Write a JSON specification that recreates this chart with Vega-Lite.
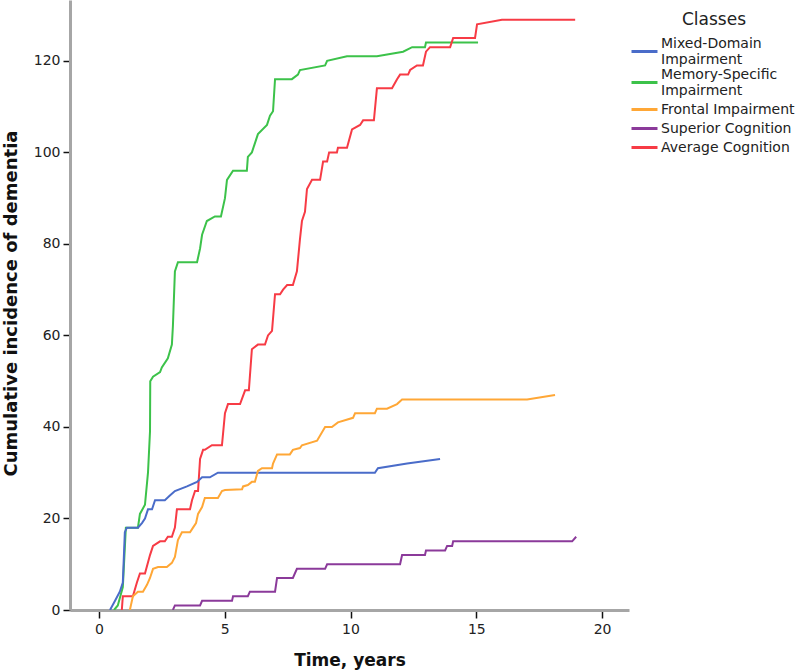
{
  "$schema": "https://vega.github.io/schema/vega-lite/v6.json",
  "width": 559,
  "height": 610,
  "autosize": {"type": "none"},
  "padding": {"left": 70, "top": 0, "right": 171, "bottom": 62},
  "background": "white",
  "config": {
    "view": {"stroke": null},
    "font": "DejaVu Sans"
  },
  "data": {"values": [
    {"cls": "Memory-Specific Impairment", "o": 1, "t": 0.6, "n": 0},
    {"cls": "Memory-Specific Impairment", "o": 2, "t": 0.75, "n": 1},
    {"cls": "Memory-Specific Impairment", "o": 3, "t": 0.95, "n": 5},
    {"cls": "Memory-Specific Impairment", "o": 4, "t": 1.07, "n": 18},
    {"cls": "Memory-Specific Impairment", "o": 5, "t": 1.55, "n": 18},
    {"cls": "Memory-Specific Impairment", "o": 6, "t": 1.63, "n": 21},
    {"cls": "Memory-Specific Impairment", "o": 7, "t": 1.83, "n": 23},
    {"cls": "Memory-Specific Impairment", "o": 8, "t": 1.95, "n": 30},
    {"cls": "Memory-Specific Impairment", "o": 9, "t": 2.03, "n": 39},
    {"cls": "Memory-Specific Impairment", "o": 10, "t": 2.04, "n": 50},
    {"cls": "Memory-Specific Impairment", "o": 11, "t": 2.15, "n": 51},
    {"cls": "Memory-Specific Impairment", "o": 12, "t": 2.43, "n": 52},
    {"cls": "Memory-Specific Impairment", "o": 13, "t": 2.5, "n": 53},
    {"cls": "Memory-Specific Impairment", "o": 14, "t": 2.74, "n": 55},
    {"cls": "Memory-Specific Impairment", "o": 15, "t": 2.9, "n": 58},
    {"cls": "Memory-Specific Impairment", "o": 16, "t": 2.94, "n": 62},
    {"cls": "Memory-Specific Impairment", "o": 17, "t": 3.02, "n": 74},
    {"cls": "Memory-Specific Impairment", "o": 18, "t": 3.14, "n": 76},
    {"cls": "Memory-Specific Impairment", "o": 19, "t": 3.9, "n": 76},
    {"cls": "Memory-Specific Impairment", "o": 20, "t": 4.02, "n": 79},
    {"cls": "Memory-Specific Impairment", "o": 21, "t": 4.1, "n": 82},
    {"cls": "Memory-Specific Impairment", "o": 22, "t": 4.29, "n": 85},
    {"cls": "Memory-Specific Impairment", "o": 23, "t": 4.61, "n": 86},
    {"cls": "Memory-Specific Impairment", "o": 24, "t": 4.85, "n": 86},
    {"cls": "Memory-Specific Impairment", "o": 25, "t": 5.01, "n": 90},
    {"cls": "Memory-Specific Impairment", "o": 26, "t": 5.09, "n": 94},
    {"cls": "Memory-Specific Impairment", "o": 27, "t": 5.33, "n": 96},
    {"cls": "Memory-Specific Impairment", "o": 28, "t": 5.88, "n": 96},
    {"cls": "Memory-Specific Impairment", "o": 29, "t": 5.92, "n": 99},
    {"cls": "Memory-Specific Impairment", "o": 30, "t": 6.08, "n": 100},
    {"cls": "Memory-Specific Impairment", "o": 31, "t": 6.32, "n": 104},
    {"cls": "Memory-Specific Impairment", "o": 32, "t": 6.68, "n": 106},
    {"cls": "Memory-Specific Impairment", "o": 33, "t": 6.8, "n": 108},
    {"cls": "Memory-Specific Impairment", "o": 34, "t": 6.92, "n": 109},
    {"cls": "Memory-Specific Impairment", "o": 35, "t": 7.0, "n": 116},
    {"cls": "Memory-Specific Impairment", "o": 36, "t": 7.67, "n": 116},
    {"cls": "Memory-Specific Impairment", "o": 37, "t": 7.91, "n": 117},
    {"cls": "Memory-Specific Impairment", "o": 38, "t": 7.99, "n": 118},
    {"cls": "Memory-Specific Impairment", "o": 39, "t": 8.99, "n": 119},
    {"cls": "Memory-Specific Impairment", "o": 40, "t": 9.07, "n": 120},
    {"cls": "Memory-Specific Impairment", "o": 41, "t": 9.86, "n": 121},
    {"cls": "Memory-Specific Impairment", "o": 42, "t": 11.05, "n": 121},
    {"cls": "Memory-Specific Impairment", "o": 43, "t": 12.09, "n": 122},
    {"cls": "Memory-Specific Impairment", "o": 44, "t": 12.45, "n": 123},
    {"cls": "Memory-Specific Impairment", "o": 45, "t": 12.96, "n": 123},
    {"cls": "Memory-Specific Impairment", "o": 46, "t": 13.0, "n": 124},
    {"cls": "Memory-Specific Impairment", "o": 47, "t": 15.07, "n": 124},

    {"cls": "Average Cognition", "o": 1, "t": 0.91, "n": 0},
    {"cls": "Average Cognition", "o": 2, "t": 0.95, "n": 3},
    {"cls": "Average Cognition", "o": 3, "t": 1.35, "n": 3},
    {"cls": "Average Cognition", "o": 4, "t": 1.51, "n": 6},
    {"cls": "Average Cognition", "o": 5, "t": 1.63, "n": 8},
    {"cls": "Average Cognition", "o": 6, "t": 1.83, "n": 8},
    {"cls": "Average Cognition", "o": 7, "t": 2.03, "n": 12},
    {"cls": "Average Cognition", "o": 8, "t": 2.15, "n": 14},
    {"cls": "Average Cognition", "o": 9, "t": 2.43, "n": 15},
    {"cls": "Average Cognition", "o": 10, "t": 2.62, "n": 15},
    {"cls": "Average Cognition", "o": 11, "t": 2.74, "n": 16},
    {"cls": "Average Cognition", "o": 12, "t": 2.9, "n": 16},
    {"cls": "Average Cognition", "o": 13, "t": 3.02, "n": 18},
    {"cls": "Average Cognition", "o": 14, "t": 3.1, "n": 22},
    {"cls": "Average Cognition", "o": 15, "t": 3.62, "n": 22},
    {"cls": "Average Cognition", "o": 16, "t": 3.7, "n": 24},
    {"cls": "Average Cognition", "o": 17, "t": 3.82, "n": 26},
    {"cls": "Average Cognition", "o": 18, "t": 3.94, "n": 26},
    {"cls": "Average Cognition", "o": 19, "t": 4.02, "n": 33},
    {"cls": "Average Cognition", "o": 20, "t": 4.14, "n": 35},
    {"cls": "Average Cognition", "o": 21, "t": 4.21, "n": 35},
    {"cls": "Average Cognition", "o": 22, "t": 4.49, "n": 36},
    {"cls": "Average Cognition", "o": 23, "t": 4.89, "n": 36},
    {"cls": "Average Cognition", "o": 24, "t": 5.01, "n": 43},
    {"cls": "Average Cognition", "o": 25, "t": 5.13, "n": 45},
    {"cls": "Average Cognition", "o": 26, "t": 5.61, "n": 45},
    {"cls": "Average Cognition", "o": 27, "t": 5.81, "n": 48},
    {"cls": "Average Cognition", "o": 28, "t": 5.96, "n": 48},
    {"cls": "Average Cognition", "o": 29, "t": 6.08, "n": 57},
    {"cls": "Average Cognition", "o": 30, "t": 6.32, "n": 58},
    {"cls": "Average Cognition", "o": 31, "t": 6.6, "n": 58},
    {"cls": "Average Cognition", "o": 32, "t": 6.72, "n": 60},
    {"cls": "Average Cognition", "o": 33, "t": 6.88, "n": 61},
    {"cls": "Average Cognition", "o": 34, "t": 7.0, "n": 69},
    {"cls": "Average Cognition", "o": 35, "t": 7.2, "n": 69},
    {"cls": "Average Cognition", "o": 36, "t": 7.32, "n": 70},
    {"cls": "Average Cognition", "o": 37, "t": 7.48, "n": 71},
    {"cls": "Average Cognition", "o": 38, "t": 7.71, "n": 71},
    {"cls": "Average Cognition", "o": 39, "t": 7.87, "n": 74},
    {"cls": "Average Cognition", "o": 40, "t": 7.99, "n": 81},
    {"cls": "Average Cognition", "o": 41, "t": 8.07, "n": 85},
    {"cls": "Average Cognition", "o": 42, "t": 8.19, "n": 87},
    {"cls": "Average Cognition", "o": 43, "t": 8.27, "n": 92},
    {"cls": "Average Cognition", "o": 44, "t": 8.47, "n": 94},
    {"cls": "Average Cognition", "o": 45, "t": 8.79, "n": 94},
    {"cls": "Average Cognition", "o": 46, "t": 8.91, "n": 98},
    {"cls": "Average Cognition", "o": 47, "t": 9.07, "n": 98},
    {"cls": "Average Cognition", "o": 48, "t": 9.15, "n": 100},
    {"cls": "Average Cognition", "o": 49, "t": 9.46, "n": 100},
    {"cls": "Average Cognition", "o": 50, "t": 9.5, "n": 101},
    {"cls": "Average Cognition", "o": 51, "t": 9.86, "n": 101},
    {"cls": "Average Cognition", "o": 52, "t": 10.06, "n": 105},
    {"cls": "Average Cognition", "o": 53, "t": 10.38, "n": 106},
    {"cls": "Average Cognition", "o": 54, "t": 10.5, "n": 107},
    {"cls": "Average Cognition", "o": 55, "t": 10.93, "n": 107},
    {"cls": "Average Cognition", "o": 56, "t": 11.05, "n": 114},
    {"cls": "Average Cognition", "o": 57, "t": 11.65, "n": 114},
    {"cls": "Average Cognition", "o": 58, "t": 11.85, "n": 116},
    {"cls": "Average Cognition", "o": 59, "t": 11.97, "n": 117},
    {"cls": "Average Cognition", "o": 60, "t": 12.29, "n": 117},
    {"cls": "Average Cognition", "o": 61, "t": 12.37, "n": 118},
    {"cls": "Average Cognition", "o": 62, "t": 12.64, "n": 119},
    {"cls": "Average Cognition", "o": 63, "t": 12.88, "n": 119},
    {"cls": "Average Cognition", "o": 64, "t": 13.0, "n": 122},
    {"cls": "Average Cognition", "o": 65, "t": 13.16, "n": 123},
    {"cls": "Average Cognition", "o": 66, "t": 13.96, "n": 123},
    {"cls": "Average Cognition", "o": 67, "t": 14.08, "n": 125},
    {"cls": "Average Cognition", "o": 68, "t": 14.95, "n": 125},
    {"cls": "Average Cognition", "o": 69, "t": 15.03, "n": 128},
    {"cls": "Average Cognition", "o": 70, "t": 16.02, "n": 129},
    {"cls": "Average Cognition", "o": 71, "t": 18.93, "n": 129},

    {"cls": "Mixed-Domain Impairment", "o": 1, "t": 0.44, "n": 0},
    {"cls": "Mixed-Domain Impairment", "o": 2, "t": 0.64, "n": 2},
    {"cls": "Mixed-Domain Impairment", "o": 3, "t": 0.83, "n": 4},
    {"cls": "Mixed-Domain Impairment", "o": 4, "t": 0.95, "n": 6},
    {"cls": "Mixed-Domain Impairment", "o": 5, "t": 1.03, "n": 17},
    {"cls": "Mixed-Domain Impairment", "o": 6, "t": 1.11, "n": 18},
    {"cls": "Mixed-Domain Impairment", "o": 7, "t": 1.55, "n": 18},
    {"cls": "Mixed-Domain Impairment", "o": 8, "t": 1.71, "n": 19},
    {"cls": "Mixed-Domain Impairment", "o": 9, "t": 1.83, "n": 20},
    {"cls": "Mixed-Domain Impairment", "o": 10, "t": 1.95, "n": 22},
    {"cls": "Mixed-Domain Impairment", "o": 11, "t": 2.11, "n": 22},
    {"cls": "Mixed-Domain Impairment", "o": 12, "t": 2.23, "n": 24},
    {"cls": "Mixed-Domain Impairment", "o": 13, "t": 2.62, "n": 24},
    {"cls": "Mixed-Domain Impairment", "o": 14, "t": 2.82, "n": 25},
    {"cls": "Mixed-Domain Impairment", "o": 15, "t": 3.02, "n": 26},
    {"cls": "Mixed-Domain Impairment", "o": 16, "t": 3.5, "n": 27},
    {"cls": "Mixed-Domain Impairment", "o": 17, "t": 3.9, "n": 28},
    {"cls": "Mixed-Domain Impairment", "o": 18, "t": 4.1, "n": 29},
    {"cls": "Mixed-Domain Impairment", "o": 19, "t": 4.41, "n": 29},
    {"cls": "Mixed-Domain Impairment", "o": 20, "t": 4.73, "n": 30},
    {"cls": "Mixed-Domain Impairment", "o": 21, "t": 10.97, "n": 30},
    {"cls": "Mixed-Domain Impairment", "o": 22, "t": 11.09, "n": 31},
    {"cls": "Mixed-Domain Impairment", "o": 23, "t": 12.25, "n": 32},
    {"cls": "Mixed-Domain Impairment", "o": 24, "t": 13.56, "n": 33},

    {"cls": "Frontal Impairment", "o": 1, "t": 1.23, "n": 0},
    {"cls": "Frontal Impairment", "o": 2, "t": 1.35, "n": 3},
    {"cls": "Frontal Impairment", "o": 3, "t": 1.55, "n": 4},
    {"cls": "Frontal Impairment", "o": 4, "t": 1.75, "n": 4},
    {"cls": "Frontal Impairment", "o": 5, "t": 1.91, "n": 5.5},
    {"cls": "Frontal Impairment", "o": 6, "t": 2.03, "n": 7},
    {"cls": "Frontal Impairment", "o": 7, "t": 2.15, "n": 9},
    {"cls": "Frontal Impairment", "o": 8, "t": 2.35, "n": 9.4},
    {"cls": "Frontal Impairment", "o": 9, "t": 2.7, "n": 9.4},
    {"cls": "Frontal Impairment", "o": 10, "t": 2.9, "n": 10.3},
    {"cls": "Frontal Impairment", "o": 11, "t": 3.02, "n": 11.6},
    {"cls": "Frontal Impairment", "o": 12, "t": 3.14, "n": 15.3},
    {"cls": "Frontal Impairment", "o": 13, "t": 3.3, "n": 17},
    {"cls": "Frontal Impairment", "o": 14, "t": 3.62, "n": 17},
    {"cls": "Frontal Impairment", "o": 15, "t": 3.74, "n": 18},
    {"cls": "Frontal Impairment", "o": 16, "t": 3.86, "n": 19},
    {"cls": "Frontal Impairment", "o": 17, "t": 3.94, "n": 21},
    {"cls": "Frontal Impairment", "o": 18, "t": 4.1, "n": 22.5},
    {"cls": "Frontal Impairment", "o": 19, "t": 4.21, "n": 24.5},
    {"cls": "Frontal Impairment", "o": 20, "t": 4.73, "n": 24.5},
    {"cls": "Frontal Impairment", "o": 21, "t": 4.89, "n": 26},
    {"cls": "Frontal Impairment", "o": 22, "t": 5.01, "n": 26.2},
    {"cls": "Frontal Impairment", "o": 23, "t": 5.69, "n": 26.4},
    {"cls": "Frontal Impairment", "o": 24, "t": 5.73, "n": 27},
    {"cls": "Frontal Impairment", "o": 25, "t": 5.92, "n": 27.3},
    {"cls": "Frontal Impairment", "o": 26, "t": 6.08, "n": 28},
    {"cls": "Frontal Impairment", "o": 27, "t": 6.2, "n": 28},
    {"cls": "Frontal Impairment", "o": 28, "t": 6.32, "n": 30.4},
    {"cls": "Frontal Impairment", "o": 29, "t": 6.48, "n": 31},
    {"cls": "Frontal Impairment", "o": 30, "t": 6.88, "n": 31},
    {"cls": "Frontal Impairment", "o": 31, "t": 6.92, "n": 32},
    {"cls": "Frontal Impairment", "o": 32, "t": 7.08, "n": 34},
    {"cls": "Frontal Impairment", "o": 33, "t": 7.59, "n": 34},
    {"cls": "Frontal Impairment", "o": 34, "t": 7.71, "n": 35},
    {"cls": "Frontal Impairment", "o": 35, "t": 7.99, "n": 35.4},
    {"cls": "Frontal Impairment", "o": 36, "t": 8.07, "n": 36},
    {"cls": "Frontal Impairment", "o": 37, "t": 8.67, "n": 37},
    {"cls": "Frontal Impairment", "o": 38, "t": 8.99, "n": 40},
    {"cls": "Frontal Impairment", "o": 39, "t": 9.26, "n": 40},
    {"cls": "Frontal Impairment", "o": 40, "t": 9.5, "n": 41},
    {"cls": "Frontal Impairment", "o": 41, "t": 10.1, "n": 42},
    {"cls": "Frontal Impairment", "o": 42, "t": 10.18, "n": 43},
    {"cls": "Frontal Impairment", "o": 43, "t": 10.97, "n": 43},
    {"cls": "Frontal Impairment", "o": 44, "t": 11.05, "n": 44},
    {"cls": "Frontal Impairment", "o": 45, "t": 11.45, "n": 44},
    {"cls": "Frontal Impairment", "o": 46, "t": 11.85, "n": 45},
    {"cls": "Frontal Impairment", "o": 47, "t": 12.05, "n": 46},
    {"cls": "Frontal Impairment", "o": 48, "t": 17.02, "n": 46},
    {"cls": "Frontal Impairment", "o": 49, "t": 18.13, "n": 47},

    {"cls": "Superior Cognition", "o": 1, "t": 2.94, "n": 0},
    {"cls": "Superior Cognition", "o": 2, "t": 3.02, "n": 1},
    {"cls": "Superior Cognition", "o": 3, "t": 4.02, "n": 1},
    {"cls": "Superior Cognition", "o": 4, "t": 4.1, "n": 2},
    {"cls": "Superior Cognition", "o": 5, "t": 5.29, "n": 2},
    {"cls": "Superior Cognition", "o": 6, "t": 5.33, "n": 3},
    {"cls": "Superior Cognition", "o": 7, "t": 5.92, "n": 3},
    {"cls": "Superior Cognition", "o": 8, "t": 6.0, "n": 4},
    {"cls": "Superior Cognition", "o": 9, "t": 7.0, "n": 4},
    {"cls": "Superior Cognition", "o": 10, "t": 7.08, "n": 7},
    {"cls": "Superior Cognition", "o": 11, "t": 7.71, "n": 7},
    {"cls": "Superior Cognition", "o": 12, "t": 7.87, "n": 9},
    {"cls": "Superior Cognition", "o": 13, "t": 8.99, "n": 9},
    {"cls": "Superior Cognition", "o": 14, "t": 9.07, "n": 10},
    {"cls": "Superior Cognition", "o": 15, "t": 11.97, "n": 10},
    {"cls": "Superior Cognition", "o": 16, "t": 12.05, "n": 12},
    {"cls": "Superior Cognition", "o": 17, "t": 12.96, "n": 12},
    {"cls": "Superior Cognition", "o": 18, "t": 13.0, "n": 13},
    {"cls": "Superior Cognition", "o": 19, "t": 13.76, "n": 13},
    {"cls": "Superior Cognition", "o": 20, "t": 13.84, "n": 14},
    {"cls": "Superior Cognition", "o": 21, "t": 14.04, "n": 14},
    {"cls": "Superior Cognition", "o": 22, "t": 14.08, "n": 15},
    {"cls": "Superior Cognition", "o": 23, "t": 18.81, "n": 15},
    {"cls": "Superior Cognition", "o": 24, "t": 18.97, "n": 16}
  ]},
  "mark": {"type": "line", "strokeWidth": 2, "clip": true},
  "encoding": {
    "x": {
      "field": "t", "type": "quantitative",
      "scale": {"domain": [-1.15, 21.07], "nice": false, "zero": false},
      "axis": {
        "values": [0, 5, 10, 15, 20],
        "title": "Time, years",
        "titleFont": "DejaVu Sans", "titleFontSize": 17, "titleFontWeight": "bold", "titleColor": "#111",
        "titleY": 50, "titleBaseline": "middle",
        "labelFont": "DejaVu Sans", "labelFontSize": 14, "labelColor": "#222", "labelPadding": 4,
        "grid": false,
        "domainColor": "#a6a6a6", "domainWidth": 3,
        "tickColor": "#111", "tickWidth": 1.5, "tickSize": 8
      }
    },
    "y": {
      "field": "n", "type": "quantitative",
      "scale": {"domain": [0, 133.3], "nice": false},
      "axis": {
        "values": [0, 20, 40, 60, 80, 100, 120],
        "title": "Cumulative incidence of dementia",
        "titleFont": "DejaVu Sans", "titleFontSize": 18, "titleFontWeight": "bold", "titleColor": "#111",
        "titleX": -59, "titleY": 303, "titleAngle": -90, "titleBaseline": "middle", "titleAlign": "center",
        "labelFont": "DejaVu Sans", "labelFontSize": 14, "labelColor": "#222", "labelPadding": 3,
        "grid": false,
        "domainColor": "#a6a6a6", "domainWidth": 3,
        "tickColor": "#111", "tickWidth": 1.5, "tickSize": 7
      }
    },
    "color": {
      "field": "cls", "type": "nominal",
      "scale": {
        "domain": ["Mixed-Domain Impairment", "Memory-Specific Impairment", "Frontal Impairment", "Superior Cognition", "Average Cognition"],
        "range": ["#4A6CC9", "#3CC24A", "#FFA736", "#8B3A9A", "#F73B45"]
      },
      "legend": {
        "title": "Classes",
        "orient": "none",
        "legendX": 563,
        "legendY": 12,
        "padding": 0,
        "titleFont": "DejaVu Sans", "titleFontSize": 17, "titleFontWeight": "normal", "titleColor": "#222",
        "titleAnchor": "middle", "titlePadding": 11,
        "labelFont": "DejaVu Sans", "labelFontSize": 14, "labelColor": "#222", "labelLimit": 220,
        "labelOffset": 5, "rowPadding": 0,
        "labelExpr": "datum.label == 'Mixed-Domain Impairment' ? ['Mixed-Domain', 'Impairment'] : datum.label == 'Memory-Specific Impairment' ? ['Memory-Specific', 'Impairment'] : datum.label",
        "symbolType": "M-1.3,0L1.3,0", "symbolSize": 400, "symbolStrokeWidth": 3,
        "encode": {
          "labels": {
            "update": {
              "dy": {"signal": "datum.label == 'Mixed-Domain Impairment' || datum.label == 'Memory-Specific Impairment' ? -8 : 0"}
            }
          }
        }
      }
    },
    "order": {"field": "o", "type": "quantitative"}
  }
}
